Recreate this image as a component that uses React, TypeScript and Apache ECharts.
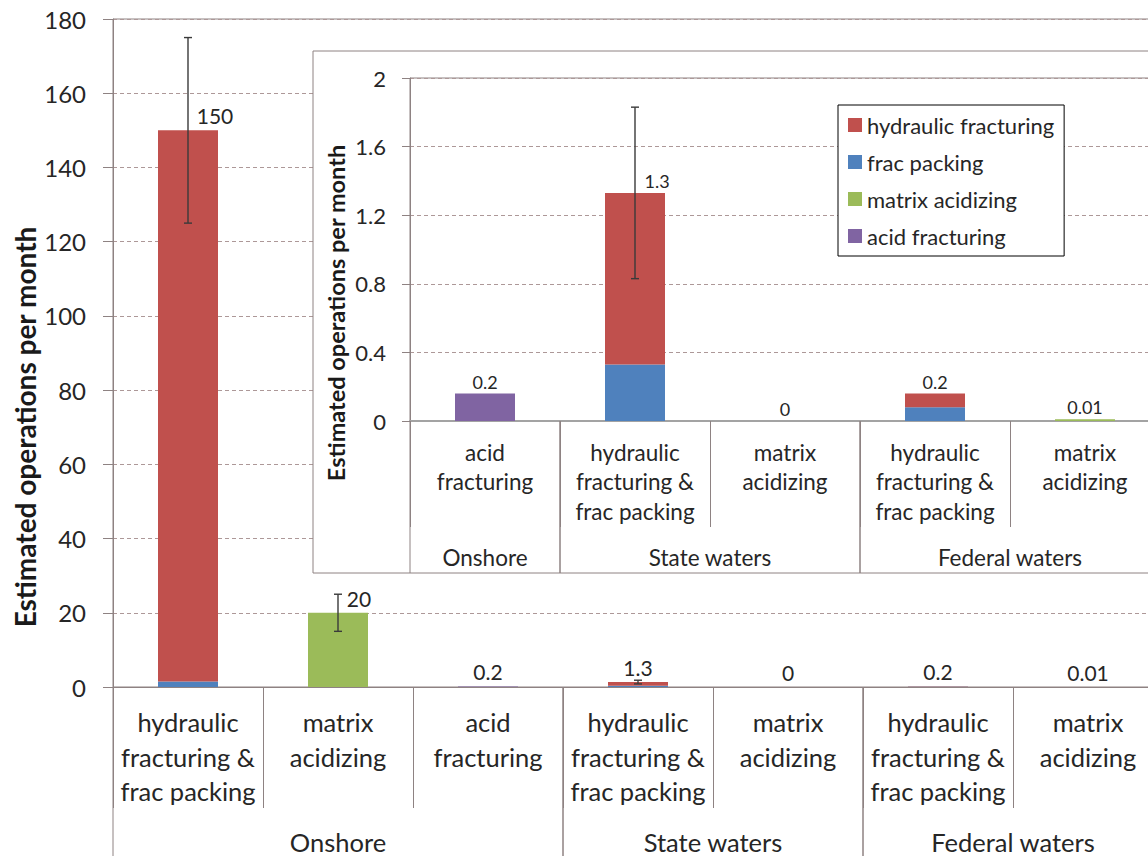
import React, { useEffect, useRef } from "react";
import * as echarts from "echarts";

// Category axis: operation type (inner level) within region (outer level)
const categories = [
  "hydraulic\nfracturing &\nfrac packing",
  "matrix\nacidizing",
  "acid\nfracturing",
  "hydraulic\nfracturing &\nfrac packing",
  "matrix\nacidizing",
  "hydraulic\nfracturing &\nfrac packing",
  "matrix\nacidizing",
];
const regions = ["Onshore", "State waters", "Federal waters"];
// [first category, one past last category] for each region
const regionSpans = [
  [0, 3],
  [3, 5],
  [5, 7],
];

// Estimated operations per month, stacked by operation type
const hydraulicFracturing = [148.5, null, null, 1.0, null, 0.08, null];
const fracPacking = [1.5, null, null, 0.33, null, 0.08, null];
const matrixAcidizing = [null, 20, null, null, 0, null, 0.01];
const acidFracturing = [null, null, 0.16, null, null, null, null];

// Error bar ranges
const errorLow = [125, 15, null, 0.83, null, null, null];
const errorHigh = [175, 25, null, 1.83, null, null, null];

// The zoomed panel starts at this category
const insetStart = 2;

const seriesNames = ["hydraulic fracturing", "frac packing", "matrix acidizing", "acid fracturing"];
const COLORS: Record<string, string> = {
  "hydraulic fracturing": "#C0504D",
  "frac packing": "#4F81BD",
  "matrix acidizing": "#9BBB59",
  "acid fracturing": "#8064A2",
};

const FONT = "Lato, 'Open Sans', sans-serif";
const TEXT = "#262626";
const AXIS = "#8e8282";
const GRID = "#ad9898";
const ERR = "#3a3a3a";

// label x-shifts so value labels clear the error bars
const mainLabelShift = [27, 21, 0, 0, 0, 0, 0];
const insetLabelShift = [0, 22, 0, 0, 0];

function fmt(v: number): string {
  if (v === 0) return "0";
  if (v >= 10) return String(Math.round(v));
  if (v >= 0.1) return v.toFixed(1);
  return v.toFixed(2);
}

function totals(from: number): (number[])[] {
  const out: number[][] = [];
  for (let i = from; i < categories.length; i++) {
    const vals = [hydraulicFracturing[i], fracPacking[i], matrixAcidizing[i], acidFracturing[i]].filter(
      (v) => v !== null && v !== undefined
    ) as number[];
    if (vals.length) out.push([i - from, vals.reduce((a, b) => a + b, 0)]);
  }
  return out;
}

function errors(from: number): number[][] {
  const out: number[][] = [];
  for (let i = from; i < categories.length; i++) {
    if (errorLow[i] !== null && errorHigh[i] !== null) out.push([i - from, errorLow[i] as number, errorHigh[i] as number]);
  }
  return out;
}

function spans(from: number): number[][] {
  return regionSpans
    .map(([s, e], k) => [Math.max(s - from, 0), 0, e - from, k])
    .filter((d) => d[2] > 0);
}

function buildSeries(axis: number, from: number, opts: any) {
  const data: Record<string, (number | null)[]> = {
    "hydraulic fracturing": hydraulicFracturing.slice(from),
    "frac packing": fracPacking.slice(from),
    "matrix acidizing": matrixAcidizing.slice(from),
    "acid fracturing": acidFracturing.slice(from),
  };
  // frac packing sits at the bottom of the stack
  const order = ["frac packing", "hydraulic fracturing", "matrix acidizing", "acid fracturing"];
  const bars = order.map((name) => ({
    type: "bar",
    name,
    xAxisIndex: axis,
    yAxisIndex: axis,
    stack: "s" + axis,
    barWidth: "40%",
    z: opts.z,
    itemStyle: { color: COLORS[name] },
    data: data[name],
  }));

  const labels = {
    type: "custom",
    xAxisIndex: axis,
    yAxisIndex: axis,
    z: opts.z + 1,
    silent: true,
    encode: { x: 0, y: 1 },
    data: totals(from),
    renderItem: (params: any, api: any) => {
      const i = api.value(0);
      const v = api.value(1);
      const p = api.coord([i, v]);
      return {
        type: "text",
        x: p[0] + opts.shift[i],
        y: p[1] - opts.valueGap,
        style: {
          text: fmt(v),
          fill: TEXT,
          fontSize: opts.valueFont,
          fontFamily: FONT,
          align: "center",
          verticalAlign: "bottom",
          textAlign: "center",
          textVerticalAlign: "bottom",
        },
      };
    },
  };

  const errs = {
    type: "custom",
    xAxisIndex: axis,
    yAxisIndex: axis,
    z: opts.z + 1,
    silent: true,
    encode: { x: 0, y: [1, 2] },
    data: errors(from),
    renderItem: (params: any, api: any) => {
      const i = api.value(0);
      const lo = api.coord([i, api.value(1)]);
      const hi = api.coord([i, api.value(2)]);
      const x = lo[0];
      const c = 4;
      const style = { stroke: ERR, lineWidth: 1.4 };
      return {
        type: "group",
        children: [
          { type: "line", shape: { x1: x, y1: lo[1], x2: x, y2: hi[1] }, style },
          { type: "line", shape: { x1: x - c, y1: lo[1], x2: x + c, y2: lo[1] }, style },
          { type: "line", shape: { x1: x - c, y1: hi[1], x2: x + c, y2: hi[1] }, style },
        ],
      };
    },
  };

  const groups = {
    type: "custom",
    xAxisIndex: axis,
    yAxisIndex: axis,
    z: opts.z,
    silent: true,
    encode: { x: 0, y: 1 },
    data: spans(from),
    renderItem: (params: any, api: any) => {
      const s = api.value(0);
      const e = api.value(2);
      const k = api.value(3);
      const bw = api.size([1, 0])[0];
      const a = api.coord([s, 0]);
      const b = api.coord([e - 1, 0]);
      const left = a[0] - bw / 2;
      const right = b[0] + bw / 2;
      const y0 = a[1];
      const ls = { stroke: AXIS, lineWidth: 1 };
      return {
        type: "group",
        children: [
          { type: "line", shape: { x1: left, y1: y0, x2: left, y2: y0 + opts.groupLine }, style: ls },
          { type: "line", shape: { x1: right, y1: y0, x2: right, y2: y0 + opts.groupLine }, style: ls },
          {
            type: "text",
            x: (left + right) / 2,
            y: y0 + opts.groupLabel,
            style: {
              text: regions[k],
              fill: TEXT,
              fontSize: opts.catFont,
              lineHeight: opts.catFont * 0.8,
              fontFamily: FONT,
              align: "center",
              verticalAlign: "middle",
              textAlign: "center",
              textVerticalAlign: "middle",
            },
          },
        ],
      };
    },
  };

  return [...bars, labels, errs, groups];
}

export default function App() {
  const ref = useRef<HTMLDivElement>(null);

  useEffect(() => {
    if (!ref.current) return;
    const chart = echarts.init(ref.current, undefined, { renderer: "svg" });

    const option: any = {
      animation: false,
      backgroundColor: "#ffffff",
      textStyle: { fontFamily: FONT },
      grid: [
        {
          left: 113,
          top: 19,
          width: 1050,
          height: 668,
          show: true,
          borderColor: AXIS,
          borderWidth: 1,
          z: 0,
        },
        {
          left: 410,
          top: 78,
          width: 750,
          height: 343,
          show: true,
          borderColor: AXIS,
          borderWidth: 1,
          z: 3,
        },
      ],
      xAxis: [
        {
          type: "category",
          gridIndex: 0,
          data: categories,
          z: 0,
          axisLine: { lineStyle: { color: AXIS, width: 1 } },
          axisTick: { show: true, length: 121, interval: 0, lineStyle: { color: AXIS } },
          axisLabel: {
            interval: 0,
            margin: 18,
            color: TEXT,
            fontSize: 25.5,
            lineHeight: 34.5,
            fontFamily: FONT,
            verticalAlign: "top",
          },
        },
        {
          type: "category",
          gridIndex: 1,
          data: categories.slice(insetStart),
          z: 3,
          axisLine: { lineStyle: { color: "#a3a3a3", width: 2 } },
          axisTick: { show: true, length: 106, interval: 0, lineStyle: { color: AXIS } },
          axisLabel: {
            interval: 0,
            margin: 16.5,
            color: TEXT,
            fontSize: 22.5,
            lineHeight: 29.5,
            fontFamily: FONT,
            verticalAlign: "top",
          },
        },
      ],
      yAxis: [
        {
          type: "value",
          gridIndex: 0,
          min: 0,
          max: 180,
          interval: 20,
          z: 0,
          axisLine: { show: true, lineStyle: { color: AXIS } },
          axisTick: { show: true, length: 10, lineStyle: { color: AXIS } },
          axisLabel: { color: TEXT, fontSize: 24, fontFamily: FONT, margin: 27 },
          splitLine: { lineStyle: { color: GRID, type: [4, 3], width: 1 } },
        },
        {
          type: "value",
          gridIndex: 1,
          min: 0,
          max: 2,
          interval: 0.4,
          z: 3,
          axisLine: { show: true, lineStyle: { color: AXIS } },
          axisTick: { show: true, length: 8, lineStyle: { color: AXIS } },
          axisLabel: { color: TEXT, fontSize: 22, fontFamily: FONT, margin: 24 },
          splitLine: { lineStyle: { color: GRID, type: [4, 3], width: 1 } },
        },
      ],
      legend: {
        data: seriesNames,
        orient: "vertical",
        left: 838,
        top: 105,
        z: 8,
        padding: [8, 10, 8, 10],
        itemGap: 13,
        itemWidth: 14,
        itemHeight: 14,
        icon: "rect",
        selectedMode: false,
        borderColor: "#000000",
        borderWidth: 1,
        backgroundColor: "#ffffff",
        textStyle: { color: TEXT, fontSize: 22, lineHeight: 24, fontFamily: FONT },
      },
      graphic: {
        elements: [
          {
            type: "rect",
            z: 1,
            silent: true,
            shape: { x: 313, y: 51, width: 900, height: 522 },
            style: { fill: "#ffffff", stroke: AXIS, lineWidth: 1 },
          },
          {
            type: "text",
            z: 10,
            x: 25,
            y: 427,
            rotation: Math.PI / 2,
            style: {
              text: "Estimated operations per month",
              fill: "#1a1a1a",
              fontSize: 28,
              fontWeight: "bold",
              fontFamily: FONT,
              align: "center",
              verticalAlign: "middle",
              textAlign: "center",
              textVerticalAlign: "middle",
            },
          },
          {
            // the page edge trims the tops of the axis-title letters
            type: "rect",
            z: 11,
            silent: true,
            shape: { x: 0, y: 0, width: 14, height: 856 },
            style: { fill: "#ffffff" },
          },
          {
            type: "text",
            z: 10,
            x: 336,
            y: 313,
            rotation: Math.PI / 2,
            style: {
              text: "Estimated operations per month",
              fill: "#1a1a1a",
              fontSize: 23.5,
              fontWeight: "bold",
              fontFamily: FONT,
              align: "center",
              verticalAlign: "middle",
              textAlign: "center",
              textVerticalAlign: "middle",
            },
          },
        ],
      },
      series: [
        ...buildSeries(0, 0, {
          z: 2,
          shift: mainLabelShift,
          valueFont: 21,
          valueGap: 4,
          catFont: 25.5,
          groupLine: 169,
          groupLabel: 155,
        }),
        ...buildSeries(1, insetStart, {
          z: 5,
          shift: insetLabelShift,
          valueFont: 18,
          valueGap: 3,
          catFont: 22.5,
          groupLine: 152,
          groupLabel: 136,
        }),
      ],
    };

    chart.setOption(option);
    return () => chart.dispose();
  }, []);

  // The plot runs past the right edge of the visible frame
  return (
    <div
      style={{
        position: "absolute",
        left: 0,
        top: 0,
        width: 1148,
        height: 856,
        overflow: "hidden",
        background: "#fff",
      }}
    >
      <div ref={ref} style={{ width: 1190, height: 856 }} />
    </div>
  );
}
